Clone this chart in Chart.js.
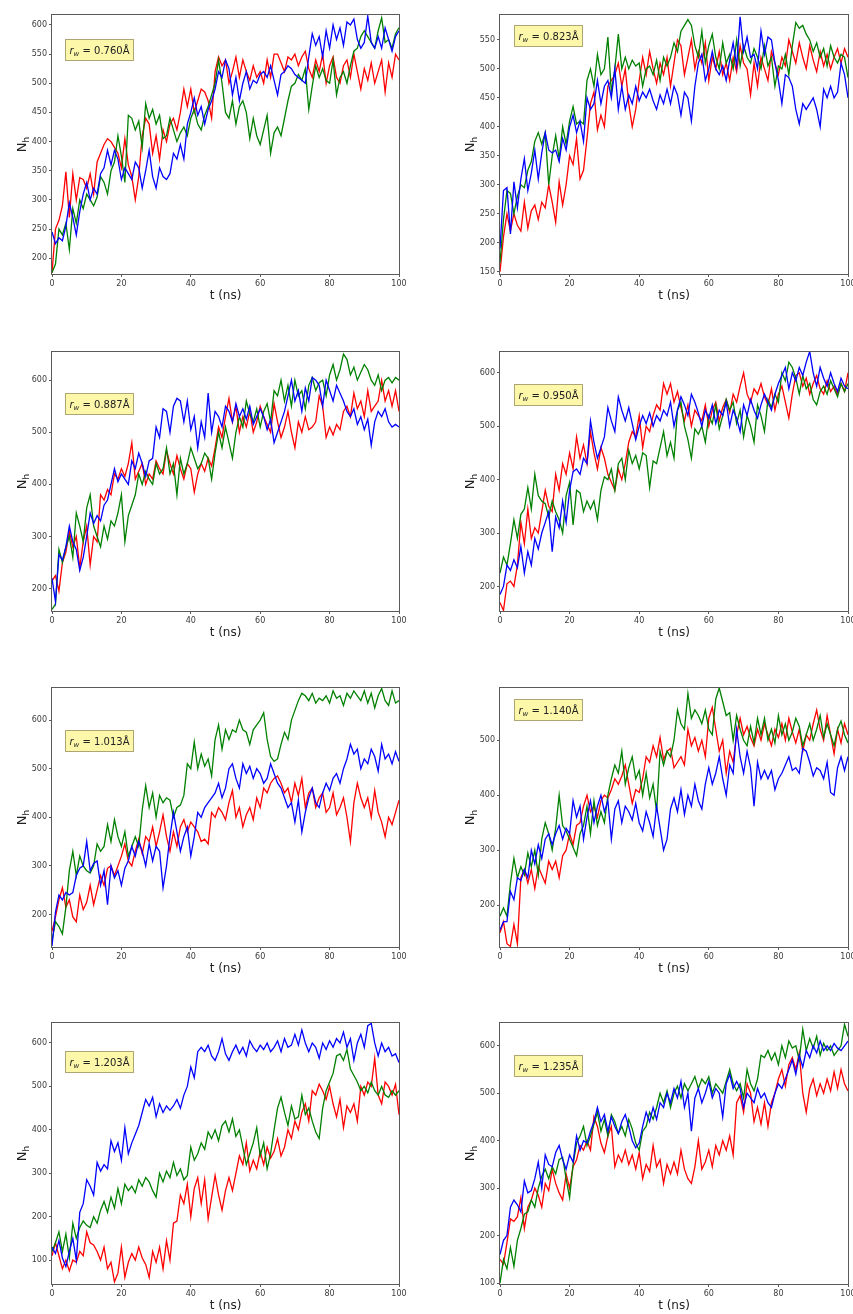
<!DOCTYPE html>
<html>
<head>
<meta charset="utf-8">
<script src="https://cdn.jsdelivr.net/npm/chart.js@4.4.1/dist/chart.umd.min.js"></script>
<style>
  html, body { margin: 0; padding: 0; background: #fff; overflow: hidden; width: 853px; height: 1314px; }
  canvas { position: absolute; }
</style>
</head>
<body>
<script>
// Simulation time grid (ns)
const times = [0,1,2,3,4,5,6,7,8,9,10,11,12,13,14,15,16,17,18,19,20,21,22,23,24,25,26,27,28,29,30,31,32,33,34,35,36,37,38,39,40,41,42,43,44,45,46,47,48,49,50,51,52,53,54,55,56,57,58,59,60,61,62,63,64,65,66,67,68,69,70,71,72,73,74,75,76,77,78,79,80,81,82,83,84,85,86,87,88,89,90,91,92,93,94,95,96,97,98,99,100];

// Wall radii r_w (Å), one panel each
const radii = ['0.760','0.823','0.887','0.950','1.013','1.140','1.203','1.235'];

// Axis limits and tick values per panel
const yMin = [173,146,157,154,133,124,45,98];
const yMax = [617,593,654,639,666,595,646,648];
const yTicks = [
  [200,250,300,350,400,450,500,550,600],
  [150,200,250,300,350,400,450,500,550],
  [200,300,400,500,600],
  [200,300,400,500,600],
  [200,300,400,500,600],
  [200,300,400,500],
  [100,200,300,400,500,600],
  [100,200,300,400,500,600]
];
const xTicks = [0,20,40,60,80,100];

// N_h trajectories, three runs per radius
const red_0760 = [175,250,265,290,348,270,345,300,338,335,320,345,310,365,380,395,405,400,390,380,355,405,360,340,300,340,410,440,430,380,410,370,420,400,430,440,420,450,490,460,490,450,470,490,485,470,440,520,545,530,540,500,520,545,510,540,520,505,530,510,520,500,540,510,550,550,535,520,545,540,550,530,545,555,525,510,540,520,550,500,530,545,510,500,530,540,510,550,520,490,525,505,535,500,520,540,485,535,510,550,540];
const green_0760 = [175,190,250,240,260,215,285,260,300,285,310,300,290,305,340,330,310,350,365,410,375,330,445,440,420,435,390,465,440,455,430,445,405,410,440,420,400,415,425,410,440,455,430,420,445,460,480,500,540,500,450,440,470,430,460,470,450,405,440,410,395,420,445,380,415,425,410,440,470,495,500,515,505,525,455,495,530,510,525,505,500,540,480,510,520,500,530,555,560,580,590,580,570,560,590,612,570,575,560,585,595];
const blue_0760 = [245,225,235,230,255,295,270,240,280,310,330,300,320,310,345,355,385,360,385,370,335,355,345,335,365,355,320,350,385,340,320,355,340,335,345,380,370,395,370,430,450,475,445,460,430,455,470,490,520,510,540,525,480,510,470,500,520,490,505,500,515,520,510,530,505,480,515,520,530,525,515,510,505,500,545,585,565,580,545,590,560,600,575,595,565,605,600,610,575,560,570,615,570,560,580,560,595,575,555,580,590];

const red_0823 = [150,210,250,220,250,230,220,270,225,255,265,240,270,260,300,270,235,305,265,300,350,335,380,310,325,380,440,460,395,420,400,470,480,490,510,470,500,440,400,430,480,520,490,530,500,475,510,490,520,470,510,550,540,490,520,550,500,530,510,545,480,520,500,530,490,510,480,520,495,540,510,500,455,510,470,520,500,480,530,510,490,520,505,550,530,510,545,520,500,540,515,495,530,505,525,500,520,535,510,535,520];
const green_0823 = [165,240,290,285,250,280,300,295,325,340,375,390,370,390,300,350,385,345,400,370,410,435,405,410,405,480,500,470,525,490,500,555,460,500,560,500,520,500,515,505,510,470,500,505,490,515,480,520,505,520,545,530,565,575,585,575,540,520,565,510,540,560,520,500,545,510,525,500,550,505,540,520,510,535,520,500,540,505,520,470,505,500,525,490,540,580,570,575,560,550,530,545,520,535,505,540,520,510,525,520,485];
const blue_0823 = [190,290,295,215,305,260,310,345,290,320,360,310,355,390,360,355,360,340,380,360,400,420,390,410,375,450,430,440,480,440,470,480,450,500,430,470,430,455,440,470,445,460,450,465,445,430,455,440,465,440,470,455,420,460,450,410,470,510,525,480,500,530,500,490,505,480,515,545,505,590,530,555,520,525,500,565,525,555,550,510,480,440,490,485,470,430,405,440,430,440,450,430,400,465,450,470,450,460,510,490,450];

const red_0887 = [215,225,195,250,270,310,280,300,240,290,320,245,300,290,380,370,390,380,420,410,430,415,440,480,410,425,440,400,420,410,445,430,420,465,440,420,455,430,410,440,430,385,420,440,425,450,435,470,510,490,530,565,520,550,500,530,510,540,500,520,550,530,515,500,555,520,490,510,540,500,470,520,500,530,505,510,520,570,550,490,510,495,515,505,540,550,530,575,545,560,530,580,540,550,560,600,560,580,550,580,540];
const green_0887 = [160,170,275,250,280,300,260,345,320,290,355,380,320,300,280,320,295,330,320,345,380,290,340,360,380,420,400,425,410,400,440,420,430,470,420,440,380,450,420,440,470,450,430,440,460,450,410,460,500,470,510,480,450,500,530,510,560,535,520,545,510,540,555,520,580,570,600,560,590,550,600,570,580,545,590,605,580,595,600,570,610,630,600,620,650,640,610,625,600,615,630,620,600,590,610,580,600,605,595,605,600];
const blue_0887 = [220,175,265,255,280,320,290,275,235,260,300,345,325,340,330,360,370,400,430,405,420,410,400,445,430,460,440,415,445,450,510,490,545,540,500,550,565,560,520,560,505,530,470,520,490,575,500,540,530,510,550,540,520,555,530,545,525,550,515,530,545,530,505,525,480,500,520,540,570,600,560,580,540,585,560,605,600,590,550,600,580,560,590,575,560,540,530,545,515,530,505,525,475,520,540,530,545,520,510,515,510];

const red_0950 = [170,155,205,210,200,240,320,280,345,290,310,300,340,380,350,340,410,380,430,410,450,420,480,440,465,430,490,450,420,460,440,410,395,380,420,400,430,470,490,480,520,460,500,490,520,540,530,580,560,580,545,565,535,510,540,500,530,520,510,540,500,530,545,510,535,550,525,560,545,575,600,560,545,570,560,580,555,540,570,530,560,575,545,515,560,595,600,575,590,560,580,595,570,560,585,565,575,560,580,565,600];
const green_0950 = [225,255,240,280,325,290,335,345,385,345,410,370,360,355,330,360,340,325,300,370,395,315,380,375,340,360,345,360,325,380,405,400,420,380,430,440,400,455,430,445,420,450,445,385,435,430,460,490,445,470,440,530,545,500,475,440,495,485,500,470,520,505,540,495,520,550,530,545,505,530,480,520,500,470,540,520,490,550,535,560,545,600,585,620,610,590,560,595,570,580,550,540,565,575,560,585,570,555,580,565,580];
const blue_0950 = [185,200,240,230,250,235,275,225,265,240,290,270,300,320,340,265,330,310,360,320,380,415,420,410,440,430,510,470,440,460,480,535,510,490,555,530,510,535,505,475,500,520,505,525,500,520,510,530,520,545,500,530,555,540,520,560,545,525,500,530,515,540,505,530,520,545,500,530,515,490,540,520,550,530,515,540,560,545,530,560,580,595,610,570,600,585,610,595,620,640,600,575,610,590,575,600,580,565,590,575,570];

const red_1013 = [165,195,230,255,215,230,195,185,240,210,225,260,220,250,280,260,295,300,280,300,320,345,310,300,330,355,325,360,350,380,340,370,405,360,330,370,340,380,395,370,390,380,370,350,355,345,410,400,420,410,395,430,455,400,420,380,405,420,395,440,420,460,450,470,480,485,470,450,460,430,470,445,480,420,450,460,420,440,450,410,420,450,405,420,440,400,350,430,470,440,420,440,400,455,410,390,360,400,385,410,435];
const green_1013 = [145,185,175,160,215,290,330,280,320,300,290,285,300,345,330,340,385,350,395,360,340,370,320,340,360,340,415,465,420,450,400,445,430,440,435,400,420,425,445,510,500,555,500,530,505,520,485,560,590,540,580,560,580,575,600,580,575,550,580,590,600,615,560,525,515,520,550,575,560,600,620,640,655,650,640,655,635,645,640,650,635,660,645,650,630,655,645,660,650,640,660,635,655,625,650,665,640,630,660,635,640];
const blue_1013 = [135,205,240,230,245,240,245,280,295,300,350,290,305,310,260,290,220,300,275,290,260,295,310,340,320,350,330,300,345,310,340,330,255,300,360,410,370,330,360,380,320,360,410,400,420,430,440,450,470,440,460,500,510,480,460,510,490,505,480,500,490,470,480,510,490,470,460,440,420,430,390,435,370,410,440,460,430,420,450,470,455,480,490,470,500,520,550,530,540,500,520,510,540,525,495,550,520,530,510,535,515];

const red_1140 = [150,170,130,125,165,130,250,265,240,265,230,270,255,240,280,265,280,250,290,300,330,310,345,350,380,400,370,380,360,390,400,395,410,430,420,435,455,420,385,410,405,430,470,460,490,470,505,465,480,485,450,460,470,455,520,490,505,480,500,470,540,560,520,480,500,440,480,460,510,540,510,525,505,490,520,500,530,510,490,520,505,530,500,540,515,495,520,480,510,500,530,555,520,500,545,510,475,520,495,530,510];
const green_1140 = [180,195,180,240,285,250,270,255,295,270,300,255,320,350,330,300,340,400,345,335,320,305,290,330,345,380,330,390,345,370,350,400,430,455,440,480,420,450,470,430,445,400,440,395,420,370,480,455,480,470,500,555,530,520,585,540,555,545,530,555,520,510,575,595,570,545,550,500,545,520,500,490,525,495,540,510,540,500,520,495,545,510,530,500,515,540,525,490,510,530,500,520,545,505,530,510,490,520,535,510,495];
const blue_1140 = [155,170,170,225,210,250,245,265,250,300,275,310,285,320,330,310,330,345,320,340,330,390,360,380,320,360,390,350,380,400,370,390,320,375,390,350,380,370,355,385,350,335,370,350,325,380,340,300,320,375,395,370,410,365,400,380,420,390,375,420,450,420,440,470,430,400,455,440,520,470,440,480,450,380,460,430,445,430,445,410,430,440,455,470,445,450,440,485,480,460,435,450,445,430,460,405,400,450,470,445,470];

const red_1203 = [110,140,110,80,100,75,100,95,120,110,165,140,135,120,100,130,80,95,50,70,130,60,95,115,100,130,105,90,60,120,95,130,80,145,100,185,190,250,230,275,200,265,290,230,285,195,245,295,250,215,260,290,260,300,340,320,370,305,330,310,350,320,360,335,350,380,340,360,400,380,420,400,440,460,420,490,480,505,490,470,500,460,430,470,405,455,440,460,420,500,480,510,500,565,480,460,510,500,480,505,435];
const green_1203 = [120,140,165,120,160,105,185,150,175,190,180,175,200,185,215,235,210,245,220,265,230,275,260,270,255,285,270,290,280,260,245,300,280,305,290,325,295,310,285,295,360,330,345,370,355,395,380,400,375,410,420,395,425,385,400,360,320,345,370,405,340,370,310,345,400,450,475,440,410,455,425,430,480,435,450,420,395,380,450,490,510,530,570,575,560,585,540,525,510,490,500,485,510,490,480,500,480,475,490,480,490];
const blue_1203 = [130,115,145,105,85,120,150,100,210,230,285,270,250,325,305,320,310,375,350,370,330,405,345,370,390,410,440,470,455,475,430,460,440,455,445,455,470,450,480,500,545,520,580,590,580,595,570,560,580,610,575,560,580,595,575,590,570,605,590,580,595,585,600,580,590,605,580,610,590,595,620,595,630,600,580,600,590,565,600,585,605,590,610,600,625,590,610,560,600,620,590,640,645,600,570,600,580,590,570,575,555];

const red_1235 = [150,140,185,235,230,240,280,215,260,275,300,285,260,310,295,340,310,290,275,330,300,345,360,390,380,400,380,450,430,395,375,410,430,345,370,355,380,350,370,340,375,320,350,335,390,345,360,310,350,330,355,330,380,340,320,310,345,400,340,355,380,345,390,370,400,380,410,370,480,495,460,520,500,440,470,435,480,430,480,500,530,550,515,560,575,550,585,500,460,510,530,495,520,500,530,505,545,510,550,520,505];
const green_1235 = [100,150,130,175,135,190,215,245,250,275,260,300,325,340,320,345,330,360,365,320,280,350,395,410,430,390,410,435,460,420,445,410,455,440,415,430,410,445,425,395,380,420,430,460,445,470,500,480,505,470,500,515,490,520,505,520,535,510,530,520,535,500,520,510,500,525,550,520,505,520,490,550,520,505,530,580,575,590,570,585,560,600,575,610,595,600,570,635,590,615,595,620,580,605,590,600,580,590,600,645,620];
const blue_1235 = [160,190,200,260,275,265,250,315,290,295,320,355,300,370,350,345,375,390,360,340,370,355,410,380,400,395,420,440,470,440,455,420,450,430,415,440,455,430,400,385,395,430,460,440,470,445,480,470,500,480,510,490,525,470,500,420,490,510,480,500,525,490,510,500,450,520,540,510,525,510,470,500,490,480,510,490,500,480,470,500,520,510,530,550,570,540,580,555,590,575,600,585,610,590,600,590,605,595,590,600,610];

const redRuns = [red_0760, red_0823, red_0887, red_0950, red_1013, red_1140, red_1203, red_1235];
const greenRuns = [green_0760, green_0823, green_0887, green_0950, green_1013, green_1140, green_1203, green_1235];
const blueRuns = [blue_0760, blue_0823, blue_0887, blue_0950, blue_1013, blue_1140, blue_1203, blue_1235];

// ---- drawing ----
const FONT = '"DejaVu Sans", "Liberation Sans", sans-serif';
const rowTop = [15, 352, 688, 1023];
const rowH = [259, 259, 259, 261];
// label box offset from the plot's top-left corner
const boxOffset = [[13,24],[14,10],[13,41],[14,32],[13,42],[14,11],[13,28],[14,32]];

const frameAndLabels = {
  id: 'frameAndLabels',
  afterDraw(chart, args, opts) {
    const ctx = chart.ctx;
    const a = chart.chartArea;
    ctx.save();
    // axes frame
    ctx.strokeStyle = '#5a5a5a';
    ctx.lineWidth = 1;
    ctx.strokeRect(Math.round(a.left) - 0.5, Math.round(a.top) - 0.5,
                   Math.round(a.right - a.left) + 1, Math.round(a.bottom - a.top) + 1);

    // x axis title
    ctx.fillStyle = '#222';
    ctx.font = '12px ' + FONT;
    ctx.textAlign = 'center';
    ctx.textBaseline = 'middle';
    ctx.fillText('t (ns)', (a.left + a.right) / 2, a.bottom + 22);

    // y axis title N_h
    ctx.save();
    ctx.translate(a.left - 31, (a.top + a.bottom) / 2);
    ctx.rotate(-Math.PI / 2);
    ctx.textAlign = 'left';
    ctx.textBaseline = 'alphabetic';
    ctx.font = '13px ' + FONT;
    const wN = ctx.measureText('N').width;
    ctx.font = '9px ' + FONT;
    const wh = ctx.measureText('h').width;
    const x0 = -(wN + wh) / 2;
    ctx.font = '13px ' + FONT;
    ctx.fillText('N', x0, 4.5);
    ctx.font = '9px ' + FONT;
    ctx.fillText('h', x0 + wN, 7.5);
    ctx.restore();

    // radius label box
    const bx = Math.round(a.left + opts.dx) + 0.5;
    const by = Math.round(a.top + opts.dy) + 0.5;
    const bw = 68, bh = 21;
    ctx.fillStyle = '#fcf7a9';
    ctx.fillRect(bx, by, bw, bh);
    ctx.strokeStyle = 'rgba(160,150,100,0.85)';
    ctx.strokeRect(bx, by, bw, bh);
    let tx = bx + 4;
    const base = by + bh / 2 + 3.5;
    ctx.fillStyle = '#222';
    ctx.textAlign = 'left';
    ctx.textBaseline = 'alphabetic';
    ctx.font = 'italic 10px ' + FONT;
    ctx.fillText('r', tx, base);
    tx += ctx.measureText('r').width;
    ctx.font = 'italic 7px ' + FONT;
    ctx.fillText('w', tx, base + 2);
    tx += ctx.measureText('w').width;
    ctx.font = '10px ' + FONT;
    ctx.fillText(' = ' + opts.radius + 'Å', tx, base);
    ctx.restore();
  }
};

function points(arr) {
  return times.map((t, i) => ({ x: t, y: arr[i] }));
}

for (let i = 0; i < 8; i++) {
  const col = i % 2, row = Math.floor(i / 2);
  const cv = document.createElement('canvas');
  const W = 420;
  const H = 10 + rowH[row] + 40;
  cv.width = W; cv.height = H;
  cv.style.left = (col ? 440 : 0) + 'px';
  cv.style.top = (rowTop[row] - 10) + 'px';
  cv.style.width = W + 'px'; cv.style.height = H + 'px';
  document.body.appendChild(cv);

  const tickStyle = { color: '#3a3a3a', font: { family: FONT, size: 8 } };
  const gridStyle = { display: true, drawOnChartArea: false, drawTicks: true, tickLength: 3, color: '#5a5a5a', lineWidth: 1 };

  new Chart(cv, {
    type: 'line',
    data: {
      datasets: [
        { data: points(blueRuns[i]), borderColor: '#0000ff' },
        { data: points(greenRuns[i]), borderColor: '#008000' },
        { data: points(redRuns[i]), borderColor: '#ff0000' }
      ]
    },
    options: {
      responsive: false,
      animation: false,
      devicePixelRatio: 1,
      layout: { padding: { left: 0, right: col ? 12 : 21, top: 10, bottom: 0 } },
      elements: {
        point: { radius: 0, hoverRadius: 0 },
        line: { tension: 0, borderWidth: 1.3, fill: false }
      },
      plugins: {
        legend: { display: false },
        tooltip: { enabled: false },
        frameAndLabels: { radius: radii[i], dx: boxOffset[i][0], dy: boxOffset[i][1] }
      },
      scales: {
        x: {
          type: 'linear', min: 0, max: 100,
          afterBuildTicks: s => { s.ticks = xTicks.map(v => ({ value: v })); },
          afterFit: s => { s.height = 40; },
          grid: gridStyle,
          border: { display: false },
          ticks: Object.assign({ padding: 2, maxRotation: 0, autoSkip: false }, tickStyle)
        },
        y: {
          type: 'linear', min: yMin[i], max: yMax[i],
          afterBuildTicks: s => { s.ticks = yTicks[i].map(v => ({ value: v })); },
          afterFit: s => { s.width = col ? 60 : 52; },
          grid: gridStyle,
          border: { display: false },
          ticks: Object.assign({ padding: 2, autoSkip: false }, tickStyle)
        }
      }
    },
    plugins: [frameAndLabels]
  });
}
</script>
</body>
</html>
